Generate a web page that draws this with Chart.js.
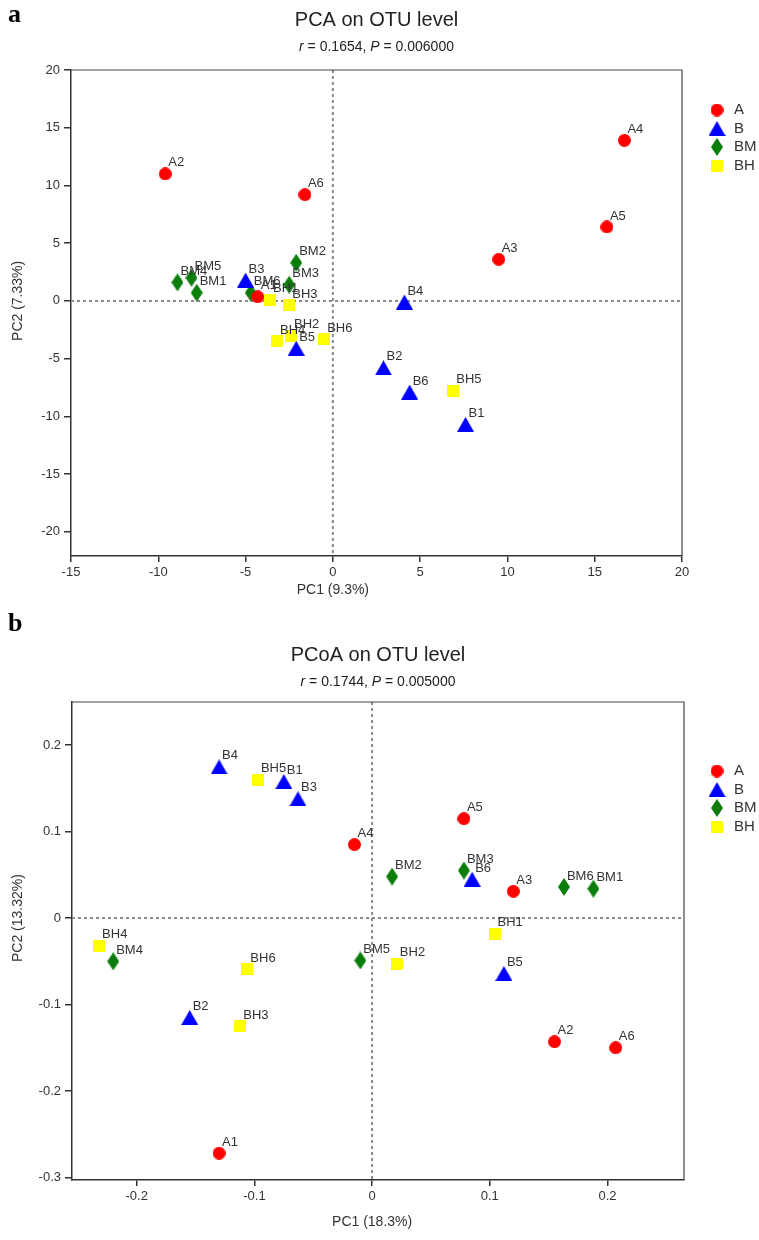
<!DOCTYPE html>
<html>
<head>
  <title>PCA / PCoA on OTU level</title>
  <script src="https://cdn.jsdelivr.net/npm/chart.js@4.4.0/dist/chart.umd.min.js"></script>
  <style>
    body { margin: 0; background: #fff; }
    canvas { display: block; }
  </style>
</head>
<body>
  <canvas id="pca" width="759" height="600"></canvas>
  <canvas id="pcoa" width="759" height="640"></canvas>

  <script>
    const groups = ['A', 'B', 'BM', 'BH'];
    const sampleNo = ['1', '2', '3', '4', '5', '6'];

    // panel a : PCA
    const pcaAx  = [-4.3, -9.6, 9.5, 16.7, 15.7, -1.6];
    const pcaAy  = [0.35, 11.0, 3.6, 13.9, 6.4, 9.2];
    const pcaBx  = [7.6, 2.9, -5.0, 4.1, -2.1, 4.4];
    const pcaBy  = [-10.7, -5.8, 1.8, -0.1, -4.1, -7.9];
    const pcaBMx = [-7.8, -2.1, -2.5, -8.9, -8.1, -4.7];
    const pcaBMy = [0.7, 3.3, 1.4, 1.6, 2.0, 0.7];
    const pcaBHx = [-3.6, -2.4, -2.5, -3.2, 6.9, -0.5];
    const pcaBHy = [0.1, -3.0, -0.4, -3.5, -7.8, -3.3];

    // panel b : PCoA
    const pcoaAx  = [-0.13, 0.155, 0.12, -0.015, 0.078, 0.207];
    const pcoaAy  = [-0.272, -0.143, 0.031, 0.085, 0.115, -0.15];
    const pcoaBx  = [-0.075, -0.155, -0.063, -0.13, 0.112, 0.085];
    const pcoaBy  = [0.158, -0.115, 0.138, 0.175, -0.064, 0.045];
    const pcoaBMx = [0.188, 0.017, 0.078, -0.22, -0.01, 0.163];
    const pcoaBMy = [0.034, 0.048, 0.055, -0.05, -0.049, 0.036];
    const pcoaBHx = [0.104, 0.021, -0.112, -0.232, -0.097, -0.106];
    const pcoaBHy = [-0.018, -0.053, -0.125, -0.032, 0.16, -0.059];

    const FONT = "'Liberation Sans', Arial, sans-serif";
    const TXT = '#333';

    // marker images (circle, triangle, slim diamond, square)
    function marker(kind, color) {
      const c = document.createElement('canvas');
      const size = { circle: [13, 13], triangle: [17, 15], diamond: [12, 18], square: [12, 12] }[kind];
      c.width = size[0]; c.height = size[1];
      const g = c.getContext('2d');
      const w = size[0], h = size[1];
      g.fillStyle = color;
      g.beginPath();
      if (kind === 'circle') {
        g.arc(w / 2, h / 2, w / 2, 0, Math.PI * 2);
      } else if (kind === 'triangle') {
        g.moveTo(w / 2, 0); g.lineTo(w, h); g.lineTo(0, h); g.closePath();
      } else if (kind === 'diamond') {
        g.moveTo(w / 2, 0); g.lineTo(w, h / 2); g.lineTo(w / 2, h); g.lineTo(0, h / 2); g.closePath();
      } else {
        g.rect(0, 0, w, h);
      }
      g.fill();
      return c;
    }
    const markers = [
      marker('circle', '#ff0000'),
      marker('triangle', '#0000ff'),
      marker('diamond', '#0b7d0b'),
      marker('square', '#ffff00')
    ];

    function pts(xs, ys) {
      return xs.map((x, i) => ({ x: x, y: ys[i] }));
    }

    function makeDatasets(xyPairs) {
      return groups.map((g, k) => ({
        label: g,
        data: pts(xyPairs[k][0], xyPairs[k][1]),
        pointStyle: markers[k],
        pointRadius: 7,
        names: sampleNo.map(n => g + n)
      }));
    }

    // drawing of everything that is not a mark
    const decor = {
      id: 'decor',
      beforeDatasetsDraw(chart) {
        const { ctx, chartArea: a, scales } = chart;
        const x0 = scales.x.getPixelForValue(0);
        const y0 = scales.y.getPixelForValue(0);
        ctx.save();
        ctx.strokeStyle = '#8a8a8a';
        ctx.lineWidth = 2;
        ctx.setLineDash([3, 3]);
        ctx.beginPath();
        ctx.moveTo(x0, a.top); ctx.lineTo(x0, a.bottom);
        ctx.moveTo(a.left, y0); ctx.lineTo(a.right, y0);
        ctx.stroke();
        ctx.restore();
      },
      afterDatasetsDraw(chart) {
        const ctx = chart.ctx;
        ctx.save();
        ctx.font = '13px ' + FONT;
        ctx.fillStyle = TXT;
        ctx.textBaseline = 'middle';
        ctx.textAlign = 'left';
        chart.data.datasets.forEach((ds, k) => {
          chart.getDatasetMeta(k).data.forEach((p, i) => {
            ctx.fillText(ds.names[i], p.x + 3, p.y - 11);
          });
        });
        ctx.restore();
      },
      afterDraw(chart, args, o) {
        const { ctx, chartArea: a, scales } = chart;
        const cx = (a.left + a.right) / 2;
        ctx.save();
        // frame top / right
        ctx.strokeStyle = '#444';
        ctx.lineWidth = 1.2;
        ctx.beginPath();
        ctx.moveTo(a.left, a.top); ctx.lineTo(a.right, a.top); ctx.lineTo(a.right, a.bottom);
        ctx.stroke();

        // panel letter
        ctx.fillStyle = '#000';
        ctx.font = "bold 26px 'Liberation Serif', serif";
        ctx.textAlign = 'left';
        ctx.textBaseline = 'middle';
        ctx.fillText(o.letter, 8, o.letterY);

        // title
        ctx.fillStyle = '#222';
        ctx.textAlign = 'center';
        ctx.font = '20px ' + FONT;
        ctx.fillText(o.title, cx, o.titleY);

        // subtitle with italic r and P
        const parts = [['r', true], [' = ' + o.r + ', ', false], ['P', true], [' = ' + o.p, false]];
        let total = 0;
        parts.forEach(pp => {
          ctx.font = (pp[1] ? 'italic ' : '') + '14px ' + FONT;
          total += ctx.measureText(pp[0]).width;
        });
        let sx = cx - total / 2;
        ctx.textAlign = 'left';
        parts.forEach(pp => {
          ctx.font = (pp[1] ? 'italic ' : '') + '14px ' + FONT;
          ctx.fillText(pp[0], sx, o.titleY + 27);
          sx += ctx.measureText(pp[0]).width;
        });

        // axis titles
        ctx.fillStyle = TXT;
        ctx.font = '14px ' + FONT;
        ctx.textAlign = 'center';
        ctx.fillText(o.xTitle, scales.x.getPixelForValue(0), a.bottom + o.xTitleGap);
        ctx.save();
        ctx.translate(18, scales.y.getPixelForValue(0));
        ctx.rotate(-Math.PI / 2);
        ctx.fillText(o.yTitle, 0, 0);
        ctx.restore();

        // legend
        ctx.textAlign = 'left';
        ctx.font = '15px ' + FONT;
        groups.forEach((g, k) => {
          const y = o.legendY + k * 18.5;
          const m = markers[k];
          ctx.drawImage(m, 717 - m.width / 2, y - m.height / 2);
          ctx.fillText(g, 734, y);
        });
        ctx.restore();
      }
    };

    function axis(min, max, step, size, isX) {
      return {
        type: 'linear',
        min: min,
        max: max,
        ticks: {
          stepSize: step,
          includeBounds: false,
          color: TXT,
          font: { size: 13, family: FONT },
          padding: isX ? 3 : 4
        },
        grid: { drawOnChartArea: false, tickLength: isX ? 6 : 7, color: '#333', lineWidth: 1.5 },
        border: { color: '#333', width: 1.5 },
        afterFit: s => { if (isX) { s.height = size; } else { s.width = size; } }
      };
    }

    new Chart(document.getElementById('pca'), {
      type: 'scatter',
      data: {
        datasets: makeDatasets([[pcaAx, pcaAy], [pcaBx, pcaBy], [pcaBMx, pcaBMy], [pcaBHx, pcaBHy]])
      },
      options: {
        responsive: false,
        animation: false,
        layout: { padding: { top: 70, right: 77, left: 0, bottom: 0 } },
        scales: {
          x: axis(-15, 20, 5, 44, true),
          y: axis(-22.1, 20, 5, 71, false)
        },
        plugins: {
          legend: { display: false },
          tooltip: { enabled: false },
          decor: {
            letter: 'a', letterY: 15, title: 'PCA on OTU level', titleY: 20,
            r: '0.1654', p: '0.006000',
            xTitle: 'PC1 (9.3%)', xTitleGap: 34, yTitle: 'PC2 (7.33%)', legendY: 110
          }
        }
      },
      plugins: [decor]
    });

    new Chart(document.getElementById('pcoa'), {
      type: 'scatter',
      data: {
        datasets: makeDatasets([[pcoaAx, pcoaAy], [pcoaBx, pcoaBy], [pcoaBMx, pcoaBMy], [pcoaBHx, pcoaBHy]])
      },
      options: {
        responsive: false,
        animation: false,
        layout: { padding: { top: 102, right: 75, left: 0, bottom: 0 } },
        scales: {
          x: axis(-0.255, 0.265, 0.1, 60, true),
          y: axis(-0.303, 0.25, 0.1, 72, false)
        },
        plugins: {
          legend: { display: false },
          tooltip: { enabled: false },
          decor: {
            letter: 'b', letterY: 24, title: 'PCoA on OTU level', titleY: 55,
            r: '0.1744', p: '0.005000',
            xTitle: 'PC1 (18.3%)', xTitleGap: 42, yTitle: 'PC2 (13.32%)', legendY: 171
          }
        }
      },
      plugins: [decor]
    });
  </script>
</body>
</html>
